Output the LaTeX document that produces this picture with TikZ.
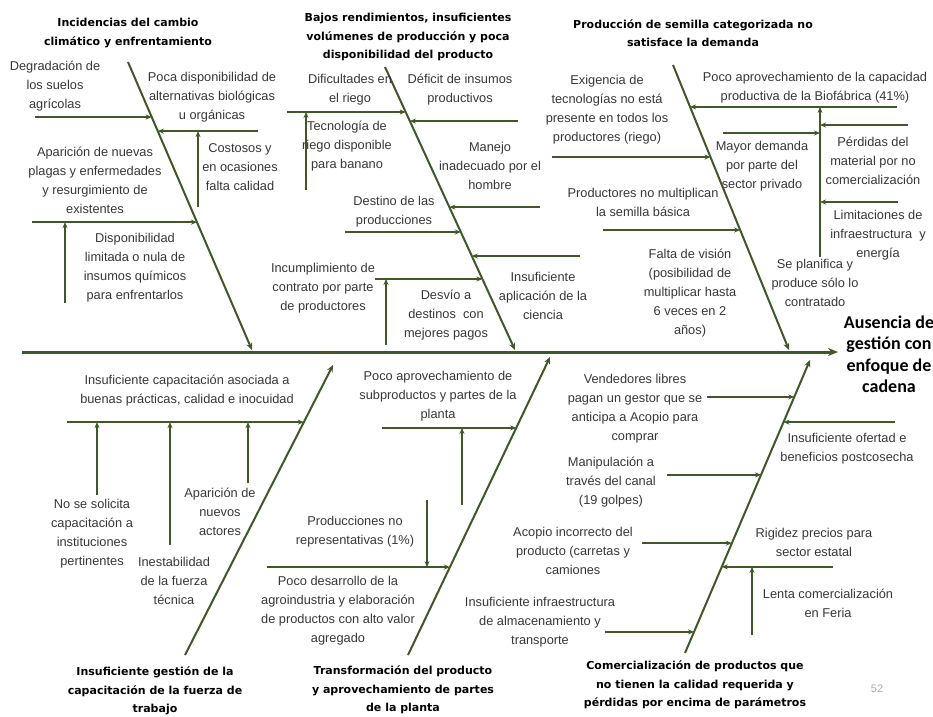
\documentclass[tikz,border=0pt]{standalone}
\usepackage{fontspec}
\setmainfont{Liberation Sans}
\newfontfamily\titulofont{DejaVu Sans}
\newfontfamily\efectofont{Carlito}
\usetikzlibrary{arrows.meta}

\definecolor{verde}{RGB}{62,88,40}
\definecolor{gris}{RGB}{55,55,55}

\begin{document}
\begin{tikzpicture}[x=1pt, y=-1pt,
    espina/.style={draw=verde, line width=3pt, -{Stealth[length=10pt,width=8pt]}},
    hueso/.style={draw=verde, line width=2pt, -{Stealth[length=7pt,width=6pt]}},
    rama/.style={draw=verde, line width=1.6pt, -{Stealth[length=6pt,width=5pt]}},
    causa/.style={text=gris, align=center, inner sep=0pt, font=\fontsize{12.8}{19}\selectfont},
    titulo/.style={align=center, inner sep=0pt, font=\titulofont\bfseries\fontsize{11}{18.5}\selectfont},
    efecto/.style={align=center, inner sep=0pt, font=\efectofont\bfseries\fontsize{18}{21.5}\selectfont}]
    \useasboundingbox (0,0) rectangle (933,716);

    \coordinate (cola) at (22,352);
    \coordinate (cabeza) at (838,352);
    \coordinate (b1a) at (128,62);   \coordinate (b1b) at (252,350);
    \coordinate (b2a) at (385,67);   \coordinate (b2b) at (515,350);
    \coordinate (b3a) at (673,65);   \coordinate (b3b) at (789,350);
    \coordinate (b4a) at (185,655);  \coordinate (b4b) at (333,365);
    \coordinate (b5a) at (408,655);  \coordinate (b5b) at (550,357);
    \coordinate (b6a) at (685,653);  \coordinate (b6b) at (810,360);

    \draw[espina] (cola) -- (cabeza);

    \draw[hueso] (b1a) -- (b1b) coordinate[pos=.191] (k11) coordinate[pos=.240] (k12)
      coordinate[pos=.556] (k13);
    \draw[rama] (k11 -| 35,0) -- (k11);
    \draw[rama] (k12 -| 258,0) -- (k12);
    \draw[rama] (k13 -| 32,0) -- (k13);
    \draw[rama] (198,207) -- (198,0 |- k12);
    \draw[rama] (65,303) -- (65,0 |- k13);

    \draw[hueso] (b2a) -- (b2b) coordinate[pos=.159] (k21) coordinate[pos=.191] (k22)
      coordinate[pos=.495] (k23) coordinate[pos=.583] (k24) coordinate[pos=.668] (k25)
      coordinate[pos=.749] (k26);
    \draw[rama] (k21 -| 287,0) -- (k21);
    \draw[rama] (k22 -| 518,0) -- (k22);
    \draw[rama] (k23 -| 540,0) -- (k23);
    \draw[rama] (k24 -| 345,0) -- (k24);
    \draw[rama] (k25 -| 580,0) -- (k25);
    \draw[rama] (k26 -| 375,0) -- (k26);
    \draw[rama] (306,190) -- (306,0 |- k21);
    \draw[rama] (386,345) -- (386,0 |- k26);

    \draw[hueso] (b3a) -- (b3b) coordinate[pos=.147] (k31) coordinate[pos=.323] (k32)
      coordinate[pos=.579] (k33);
    \draw[rama] (k31 -| 897,0) -- (k31);
    \draw[rama] (k32 -| 552,0) -- (k32);
    \draw[rama] (k33 -| 603,0) -- (k33);
    \coordinate (v3) at (820,257);
    \draw[rama] (v3) -- (v3 |- k31);
    \draw[rama] (723,133) -- (v3 |- 0,133);
    \draw[rama] (908,125) -- (v3 |- 0,125);
    \draw[rama] (898,202) -- (v3 |- 0,202);

    \draw[hueso] (b4a) -- (b4b) coordinate[pos=.803] (k41);
    \draw[rama] (k41 -| 67,0) -- (k41);
    \draw[rama] (97,495) -- (97,0 |- k41);
    \draw[rama] (170,545) -- (170,0 |- k41);
    \draw[rama] (248,483) -- (248,0 |- k41);

    \draw[hueso] (b5a) -- (b5b) coordinate[pos=.762] (k51) coordinate[pos=.295] (k52);
    \draw[rama] (k51 -| 382,0) -- (k51);
    \draw[rama] (k52 -| 267,0) -- (k52);
    \draw[rama] (462,505) -- (462,0 |- k51);
    \draw[rama] (427,500) -- (427,0 |- k52);

    \draw[hueso] (b6a) -- (b6b) coordinate[pos=.874] (k61) coordinate[pos=.788] (k62)
      coordinate[pos=.608] (k63) coordinate[pos=.375] (k64) coordinate[pos=.294] (k65)
      coordinate[pos=.072] (k66);
    \draw[rama] (k61 -| 707,0) -- (k61);
    \draw[rama] (k62 -| 895,0) -- (k62);
    \draw[rama] (k63 -| 667,0) -- (k63);
    \draw[rama] (k64 -| 642,0) -- (k64);
    \draw[rama] (k65 -| 833,0) -- (k65);
    \draw[rama] (k66 -| 605,0) -- (k66);
    \draw[rama] (752,635) -- (752,0 |- k65);

    \node[titulo] (tcambio) at (128,33) {Incidencias del cambio\\climático y enfrentamiento};
    \node[titulo] (trend) at (408,37) {Bajos rendimientos, insuficientes\\volúmenes de producción y poca\\disponibilidad del producto};
    \node[titulo] (tsemilla) at (693,33) {Producción de semilla categorizada no\\satisface la demanda};
    \node[titulo] (tcapac) at (155,691) {Insuficiente gestión de la\\capacitación de la fuerza de\\trabajo};
    \node[titulo] (ttransf) at (403,690) {Transformación del producto\\y aprovechamiento de partes\\de la planta};
    \node[titulo] (tcomer) at (695,685) {Comercialización de productos que\\no tienen la calidad requerida y\\pérdidas por encima de parámetros};
    \node[efecto] (ausencia) at (889,354) {Ausencia de\\gestión con\\enfoque de\\cadena};

    \node[causa] (degrad) at (55,86) {Degradación de\\los suelos\\agrícolas};
    \node[causa] (pocadisp) at (212,97) {Poca disponibilidad de\\alternativas biológicas\\u orgánicas};
    \node[causa] (costosos) at (240,167) {Costosos y\\en ocasiones\\falta calidad};
    \node[causa] (plagas) at (95,180) {Aparición de nuevas\\plagas y enfermedades\\y resurgimiento de\\existentes};
    \node[causa] (quimicos) at (135,268) {Disponibilidad\\limitada o nula de\\insumos químicos\\para enfrentarlos};
    \node[causa] (riego) at (350,90) {Dificultades en\\el riego};
    \node[causa] (deficit) at (460,90) {Déficit de insumos\\productivos};
    \node[causa] (tecno) at (347,146) {Tecnología de\\riego disponible\\para banano};
    \node[causa] (manejo) at (490,166) {Manejo\\inadecuado por el\\hombre};
    \node[causa] (destino) at (394,212) {Destino de las\\producciones};
    \node[causa] (ciencia) at (543,296) {Insuficiente\\aplicación de la\\ciencia};
    \node[causa] (contrato) at (323,288) {Incumplimiento de\\contrato por parte\\de productores};
    \node[causa] (desvio) at (446,315) {Desvío a\\destinos\ \ con\\mejores pagos};
    \node[causa] (exig) at (607,110) {Exigencia de\\tecnologías no está\\presente en todos los\\productores (riego)};
    \node[causa] (biofab) at (815,88) {Poco aprovechamiento de la capacidad\\productiva de la Biofábrica (41\%)};
    \node[causa] (demanda) at (762,166) {Mayor demanda\\por parte del\\sector privado};
    \node[causa] (perdidas) at (873,161) {Pérdidas del\\material por no\\comercialización};
    \node[causa] (limit) at (878,235) {Limitaciones de\\infraestructura\ \ y\\energía};
    \node[causa] (planif) at (815,283) {Se planifica y\\produce sólo lo\\contratado};
    \node[causa] (multip) at (643,202) {Productores no multiplican\\la semilla básica};
    \node[causa] (vision) at (690,293) {Falta de visión\\(posibilidad de\\multiplicar hasta\\6 veces en 2\\años)};
    \node[causa] (buenas) at (187,391) {Insuficiente capacitación asociada a\\buenas prácticas, calidad e inocuidad};
    \node[causa] (solicita) at (92,534) {No se solicita\\capacitación a\\instituciones\\pertinentes};
    \node[causa] (inestab) at (174,581) {Inestabilidad\\de la fuerza\\técnica};
    \node[causa] (actores) at (220,512) {Aparición de\\nuevos\\actores};
    \node[causa] (subprod) at (438,396) {Poco aprovechamiento de\\subproductos y partes de la\\planta};
    \node[causa] (represent) at (355,532) {Producciones no\\representativas (1\%)};
    \node[causa] (agroind) at (338,611) {Poco desarrollo de la\\agroindustria y elaboración\\de productos con alto valor\\agregado};
    \node[causa] (vendedores) at (635,409) {Vendedores libres\\pagan un gestor que se\\anticipa a Acopio para\\comprar};
    \node[causa] (oferta) at (847,449) {Insuficiente ofertad e\\beneficios postcosecha};
    \node[causa] (manipul) at (611,482) {Manipulación a\\través del canal\\(19 golpes)};
    \node[causa] (acopio) at (573,551) {Acopio incorrecto del\\producto (carretas y\\camiones};
    \node[causa] (rigidez) at (814,542) {Rigidez precios para\\sector estatal};
    \node[causa] (lenta) at (828,603) {Lenta comercialización\\en Feria};
    \node[causa] (almacen) at (540,622) {Insuficiente infraestructura\\de almacenamiento y\\transporte};
    \node[text=gris!40, font=\fontsize{11}{13}\selectfont] (pagina) at (877,689) {52};
  \end{tikzpicture}
\end{document}
